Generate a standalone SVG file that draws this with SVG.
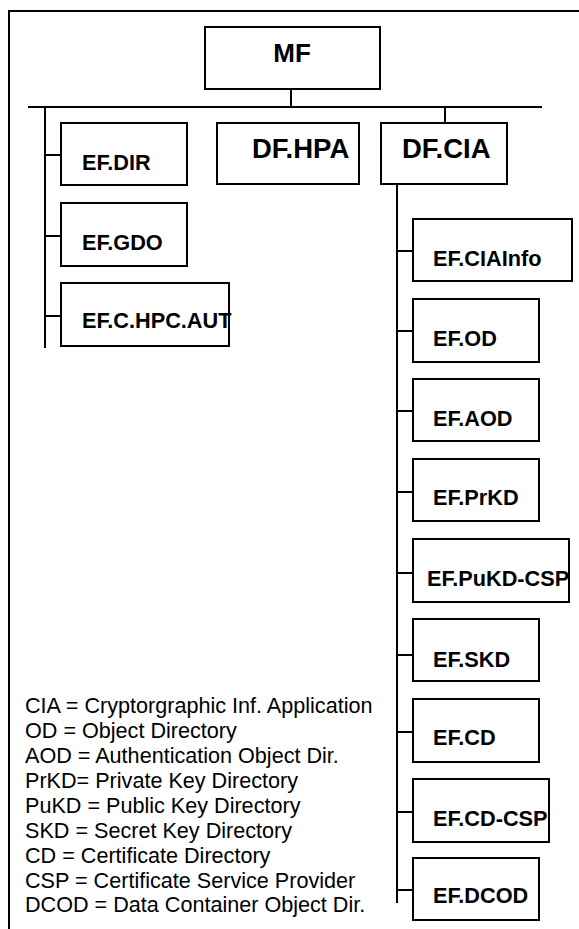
<svg xmlns="http://www.w3.org/2000/svg" width="579" height="929" viewBox="0 0 579 929">
<style>
.box{fill:#fff;stroke:#000;stroke-width:2}
.ln{fill:none;stroke:#000;stroke-width:2}
.lb{font-family:"Liberation Sans",Arial,sans-serif;font-weight:bold;font-size:21.7px;fill:#000}
.mf{font-size:26px}
.big{font-size:27.5px}
.lg{font-family:"Liberation Sans",Arial,sans-serif;font-size:21.6px;fill:#000}
</style>
<rect width="579" height="929" fill="#fff"/>
<polyline class="ln" points="9,929 9,11 579,11"/>
<g id="connectors">
<line class="ln" x1="291" y1="89" x2="291" y2="107"/>
<line class="ln" x1="28" y1="107" x2="542" y2="107"/>
<line class="ln" x1="445" y1="107" x2="445" y2="123"/>
<line class="ln" x1="45" y1="107" x2="45" y2="348"/>
<line class="ln" x1="45" y1="155" x2="61" y2="155"/>
<line class="ln" x1="45" y1="236" x2="61" y2="236"/>
<line class="ln" x1="45" y1="316" x2="61" y2="316"/>
<line class="ln" x1="397" y1="184" x2="397" y2="903"/>
<line class="ln" x1="397" y1="251" x2="413" y2="251"/>
<line class="ln" x1="397" y1="331" x2="413" y2="331"/>
<line class="ln" x1="397" y1="411" x2="413" y2="411"/>
<line class="ln" x1="397" y1="492" x2="413" y2="492"/>
<line class="ln" x1="397" y1="573" x2="413" y2="573"/>
<line class="ln" x1="397" y1="655" x2="413" y2="655"/>
<line class="ln" x1="397" y1="732" x2="413" y2="732"/>
<line class="ln" x1="397" y1="812" x2="413" y2="812"/>
<line class="ln" x1="397" y1="890" x2="416" y2="890"/>
</g>
<g id="MF"><rect class="box" x="205" y="27" width="175" height="62"/><text class="lb mf" x="292" y="62" text-anchor="middle">MF</text></g>
<g id="EF.DIR"><rect class="box" x="61" y="123" width="126" height="62"/><text class="lb" x="82" y="170">EF.DIR</text></g>
<g id="DF.HPA"><rect class="box" x="217" y="123" width="142" height="61"/><text class="lb big" x="252" y="158">DF.HPA</text></g>
<g id="DF.CIA"><rect class="box" x="381" y="123" width="126" height="61"/><text class="lb big" x="402" y="158">DF.CIA</text></g>
<g id="EF.GDO"><rect class="box" x="61" y="203" width="126" height="63"/><text class="lb" x="82" y="250">EF.GDO</text></g>
<g id="EF.C.HPC.AUT"><rect class="box" x="61" y="283" width="168" height="63"/><text class="lb" x="82" y="328">EF.C.HPC.AUT</text></g>
<g id="EF.CIAInfo"><rect class="box" x="413" y="219" width="159" height="62"/><text class="lb" x="433" y="266">EF.CIAInfo</text></g>
<g id="EF.OD"><rect class="box" x="413" y="299" width="126" height="63"/><text class="lb" x="433" y="346">EF.OD</text></g>
<g id="EF.AOD"><rect class="box" x="413" y="379" width="126" height="62"/><text class="lb" x="433" y="426">EF.AOD</text></g>
<g id="EF.PrKD"><rect class="box" x="413" y="459" width="126" height="62"/><text class="lb" x="433" y="505">EF.PrKD</text></g>
<g id="EF.PuKD-CSP"><rect class="box" x="413" y="539" width="156" height="63"/><text class="lb" x="427" y="586">EF.PuKD-CSP</text></g>
<g id="EF.SKD"><rect class="box" x="413" y="619" width="126" height="62"/><text class="lb" x="433" y="667">EF.SKD</text></g>
<g id="EF.CD"><rect class="box" x="413" y="699" width="126" height="63"/><text class="lb" x="433" y="745">EF.CD</text></g>
<g id="EF.CD-CSP"><rect class="box" x="413" y="779" width="136" height="63"/><text class="lb" x="433" y="826">EF.CD-CSP</text></g>
<g id="EF.DCOD"><rect class="box" x="413" y="858" width="126" height="62"/><text class="lb" x="433" y="903">EF.DCOD</text></g>
<g id="legend" class="lg">
<text x="25" y="713">CIA = Cryptorgraphic Inf. Application</text>
<text x="25" y="738">OD = Object Directory</text>
<text x="25" y="763">AOD = Authentication Object Dir.</text>
<text x="25" y="788">PrKD= Private Key Directory</text>
<text x="25" y="813">PuKD = Public Key Directory</text>
<text x="25" y="838">SKD = Secret Key Directory</text>
<text x="25" y="863">CD = Certificate Directory</text>
<text x="25" y="888">CSP = Certificate Service Provider</text>
<text x="25" y="912">DCOD = Data Container Object Dir.</text>
</g>
</svg>
